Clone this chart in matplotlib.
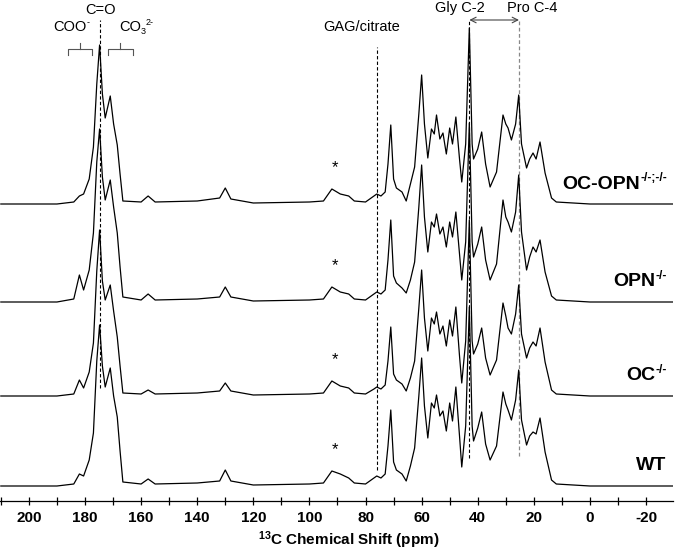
import matplotlib
matplotlib.use("Agg")
import matplotlib.pyplot as plt
from matplotlib.ticker import MultipleLocator

plt.rcParams["font.family"] = ["Liberation Sans", "DejaVu Sans"]
plt.rcParams["mathtext.fontset"] = "custom"
plt.rcParams["mathtext.rm"] = "Liberation Sans"
plt.rcParams["mathtext.bf"] = "Liberation Sans:bold"
plt.rcParams["mathtext.default"] = "regular"
plt.rcParams["axes.unicode_minus"] = False

# key points of the spectra (ppm) and intensities
ppm = [210, 200, 190, 184, 182, 180.5, 178.5, 177, 175.8, 174.8, 173.8, 172.8,
       171, 169.8, 168.5, 167.5, 166.5, 160, 157.5, 155, 140, 132, 130, 128,
       120, 100, 95, 92, 89, 86, 84, 80, 77, 76, 74.5, 73, 72, 71, 70, 69, 67,
       65.5, 64, 62.5, 61, 60, 59, 57.8, 56.5, 55.5, 54.7, 53.5, 52.4, 51.2,
       50, 49, 47.8, 46.5, 45.7, 44.3, 43, 42, 41.5, 40, 38.6, 37.2, 35.6,
       33.3, 31, 30, 29.2, 28, 26.5, 25.4, 24.4, 22.6, 21.5, 20.3, 19.2, 17.8,
       16, 13.7, 12, 0, -30]

oc_opn = [0, 0, 0, 2, 8, 10, 25, 57, 120, 159, 110, 86, 108, 80, 59, 30, 3,
          2, 8, 2, 3, 6, 16, 5, 1, 2, 3, 15, 10, 8, 3, 2, 8, 10, 8, 12, 40, 79,
          25, 16, 12, 3, 20, 37, 90, 129, 80, 46, 75, 70, 89, 65, 71, 50, 76,
          60, 87, 45, 22, 60, 176, 60, 45, 55, 72, 40, 17, 32, 89, 80, 76, 64,
          80, 109, 60, 36, 45, 51, 45, 62, 31, 6, 2, 0, 0]

opn = [0, 0, 0, 3, 27, 12, 32, 69, 140, 173, 125, 102, 122, 95, 69, 35, 5,
       2, 8, 2, 3, 5, 15, 5, 1, 2, 3, 15, 10, 8, 3, 2, 8, 10, 8, 12, 42, 82,
       26, 19, 14, 9, 22, 40, 95, 137, 85, 50, 80, 75, 88, 68, 75, 55, 80, 65,
       90, 48, 22, 60, 179, 60, 45, 58, 75, 42, 22, 38, 102, 85, 80, 70, 90,
       127, 70, 32, 45, 55, 50, 62, 30, 6, 2, 0, 0]

oc = [0, 0, 0, 2, 16, 8, 24, 53, 125, 166, 115, 96, 111, 85, 59, 30, 3,
      2, 6, 2, 3, 5, 13, 5, 1, 2, 3, 15, 10, 8, 3, 2, 7, 9, 7, 11, 35, 69,
      22, 16, 12, 5, 18, 35, 88, 126, 78, 45, 78, 72, 84, 62, 70, 50, 76, 60,
      89, 40, 13, 55, 176, 55, 42, 52, 68, 38, 21, 36, 93, 80, 68, 62, 82,
      111, 62, 38, 48, 54, 50, 68, 34, 6, 2, 0, 0]

wt = [0, 0, 0, 2, 12, 10, 26, 53, 125, 161, 120, 99, 118, 90, 69, 35, 4,
      2, 7, 2, 3, 5, 16, 5, 1, 2, 3, 15, 12, 8, 3, 2, 8, 10, 8, 12, 40, 76,
      24, 16, 12, 5, 20, 38, 90, 128, 80, 48, 83, 78, 91, 70, 75, 55, 83, 65,
      99, 50, 19, 60, 179, 60, 45, 58, 74, 42, 26, 40, 94, 82, 76, 66, 86,
      116, 66, 41, 50, 54, 52, 68, 34, 6, 2, 0, 0]

names = ["WT", "OC", "OPN", "OC-OPN"]
sups = ["", "-/-", "-/-", "-/-;-/-"]
spectra = [wt, oc, opn, oc_opn]
offsets = [0, 90, 184, 282]

fig = plt.figure(figsize=(6.79, 5.5), dpi=100)
ax = fig.add_axes([0, 49 / 550, 673 / 679, 501 / 550])
renderer = fig.canvas.get_renderer()


def text_width(s, size, weight):
    t = ax.text(0, 0, s, fontsize=size, fontweight=weight)
    w = t.get_window_extent(renderer).width * 72 / fig.dpi
    t.remove()
    return w if s else 0


def sup_text(x, y, base, sup, size, weight="normal", align="right", sub=""):
    # base text, optional subscript, then small raised text (hyphens as typed)
    ssize = size * 0.62
    bw = text_width(base, size, weight)
    subw = text_width(sub, ssize, weight)
    supw = text_width(sup, ssize, weight)
    total = bw + subw + supw
    x0 = -total if align == "right" else -total / 2
    ax.annotate(base, (x, y), xytext=(x0, 0), textcoords="offset points",
                ha="left", va="center", fontsize=size, fontweight=weight)
    if sub:
        ax.annotate(sub, (x, y), xytext=(x0 + bw, -size * 0.3),
                    textcoords="offset points", ha="left", va="center",
                    fontsize=ssize, fontweight=weight)
    ax.annotate(sup, (x, y), xytext=(x0 + bw + subw, size * 0.32),
                textcoords="offset points", ha="left", va="center",
                fontsize=ssize, fontweight=weight)


for name, sup, spec, off in zip(names, sups, spectra, offsets):
    ax.plot(ppm, [v + off for v in spec], color="black", lw=0.9, zorder=3)
    sup_text(-27.4, off + 20, name, sup, 14, weight="bold")
    ax.text(91, off + 36, "*", ha="center", va="center", fontsize=12)

# reference lines
dash = (0, (3, 2))
ax.plot([174.6, 174.6], [98, 466], color="black", lw=0.8, ls=dash, zorder=2)
ax.plot([76, 76], [16, 439], color="black", lw=0.8, ls=dash, zorder=2)
ax.plot([43, 43], [28, 466], color="black", lw=0.8, ls=dash, zorder=2)
ax.plot([25.3, 25.3], [30, 466], color="#888888", lw=0.9, ls=dash, zorder=2)
ax.annotate("", xy=(25.3, 466), xytext=(43, 466),
            arrowprops=dict(arrowstyle="<->", color="#444444", lw=0.8,
                            shrinkA=0, shrinkB=0))

# brackets over carbonyl region
for lft, rgt in [(186.1, 177.5), (171.8, 162.9)]:
    mid = (lft + rgt) / 2
    ax.plot([lft, lft, rgt, rgt], [431, 437, 437, 431], color="#555555", lw=0.8)
    ax.plot([mid, mid], [437, 443], color="#555555", lw=0.8)

ax.text(174.6, 476, "C=O", ha="center", va="center", fontsize=10.5)
sup_text(184.7, 459, "COO", "-", 10.5, align="center")
sup_text(161.7, 459, "CO", "2-", 10.5, align="center", sub="3")
ax.text(81.3, 459, "GAG/citrate", ha="center", va="center", fontsize=10.5)
ax.text(46.5, 478, "Gly C-2", ha="center", va="center", fontsize=10.5)
ax.text(20.5, 478, "Pro C-4", ha="center", va="center", fontsize=10.5)

ax.set_xlim(210.3, -29.6)
ax.set_ylim(-15, 486)
ax.xaxis.set_major_locator(MultipleLocator(20))
ax.xaxis.set_minor_locator(MultipleLocator(10))
ax.tick_params(axis="x", which="both", direction="inout", length=6,
               width=0.9, labelsize=11, pad=4)
for lab in ax.get_xticklabels():
    lab.set_fontweight("bold")
ax.set_yticks([])
for side in ["left", "top", "right"]:
    ax.spines[side].set_visible(False)
ax.spines["bottom"].set_linewidth(0.9)
ax.set_xlabel("$^{\\mathbf{13}}$C Chemical Shift (ppm)", fontsize=11,
              fontweight="bold", va="center")
ax.xaxis.set_label_coords(348.5 / 673, -39 / 501)

fig.savefig("out.png", dpi=100)
